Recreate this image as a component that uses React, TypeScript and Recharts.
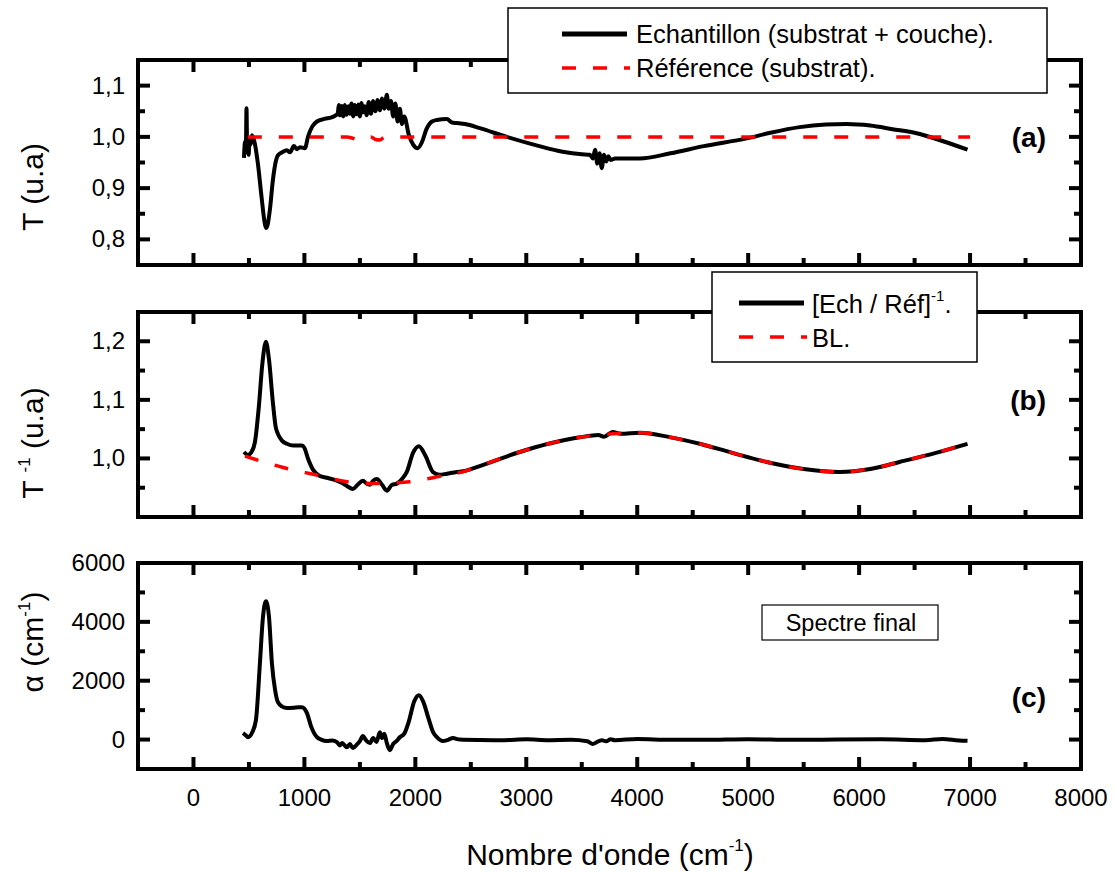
import React from 'react';
import { LineChart, Line, XAxis, YAxis } from 'recharts';

const W = 1115;
const H = 873;
const PLOT_LEFT = 138;
const PLOT_RIGHT = 1081;
const AX = 20;
const FONT = '"Liberation Sans", Arial, sans-serif';

// shared wavenumber axis
const xTicks = [0, 500, 1000, 1500, 2000, 2500, 3000, 3500, 4000, 4500, 5000, 5500, 6000, 6500, 7000, 7500, 8000];
const xMajor = [0, 1000, 2000, 3000, 4000, 5000, 6000, 7000, 8000];

// (a) transmission
const aTicks = [0.8, 0.85, 0.9, 0.95, 1.0, 1.05, 1.1];
const aMajor = [0.8, 0.9, 1.0, 1.1];
const echX = [455, 465, 472, 478, 484, 490, 497, 505, 515, 527, 550, 580, 615, 640, 653, 670, 690, 716, 740, 761, 800, 842, 870, 905, 932, 960, 1005, 1032, 1070, 1113, 1180, 1257, 1300,
  1310, 1320, 1335, 1350, 1365, 1380, 1395, 1410, 1425, 1440, 1455, 1470, 1485, 1500, 1515, 1530, 1545, 1560, 1580, 1600, 1620, 1640, 1660, 1680, 1700, 1720, 1743, 1760, 1780, 1800, 1820, 1840, 1860, 1880, 1900,
  1940, 1980, 2022, 2060, 2100, 2150, 2194, 2284, 2330, 2374, 2450, 2580, 2824, 3100, 3328, 3500, 3572, 3600, 3620, 3640, 3660, 3680, 3700, 3720, 3740, 3760, 3800, 3932, 4023, 4300, 4600, 4986, 5200, 5464, 5700, 5887, 6100, 6300, 6518, 6750, 6977];
const echT = [0.959, 0.99, 0.97, 1.056, 0.975, 0.995, 0.965, 0.99, 0.985, 1.003, 0.99, 0.949, 0.88, 0.835, 0.822, 0.83, 0.86, 0.916, 0.95, 0.964, 0.970, 0.974, 0.970, 0.982, 0.976, 0.98, 0.978, 1.0, 1.02, 1.03, 1.035, 1.039, 1.045,
  1.062, 1.042, 1.06, 1.04, 1.062, 1.043, 1.06, 1.045, 1.065, 1.04, 1.062, 1.044, 1.063, 1.04, 1.066, 1.048, 1.06, 1.042, 1.068, 1.045, 1.07, 1.05, 1.072, 1.052, 1.075, 1.055, 1.082, 1.055, 1.07, 1.04, 1.065, 1.03, 1.055, 1.025, 1.04,
  1.005, 0.985, 0.978, 0.99, 1.015, 1.03, 1.033, 1.035, 1.028, 1.027, 1.025, 1.017, 1.0, 0.983, 0.971, 0.966, 0.965, 0.958, 0.975, 0.948, 0.968, 0.939, 0.965, 0.952, 0.962, 0.955, 0.958, 0.958, 0.958, 0.968, 0.982, 0.997, 1.008, 1.019, 1.024, 1.025, 1.022, 1.015, 1.007, 0.992, 0.975];
const refX = [490, 1380, 1440, 1480, 1520, 1600, 1640, 1680, 1720, 1800, 7000];
const refT = [1.0, 1.0, 0.997, 0.994, 0.999, 1.0, 0.995, 0.994, 0.999, 1.0, 1.0];

// (b) inverse ratio and baseline
const bTicks = [0.95, 1.0, 1.05, 1.1, 1.15, 1.2];
const bMajor = [0.9, 1.0, 1.1, 1.2];
const invX = [455, 491, 520, 554, 590, 620, 653, 680, 716, 740, 761, 800, 842, 900, 977, 1000, 1032, 1080, 1140, 1200, 1293, 1340, 1383, 1437, 1480, 1527, 1560, 1590, 1620, 1653, 1700, 1743, 1790, 1833, 1880, 1923, 1980, 2032, 2090, 2158, 2220, 2284, 2374, 2428, 2580, 2941, 3200, 3482, 3650, 3700, 3779, 3850, 4023, 4300, 4563, 4850, 5167, 5500, 5824, 6100, 6365, 6700, 6977];
const invT = [1.011, 1.006, 1.01, 1.028, 1.09, 1.16, 1.199, 1.17, 1.095, 1.055, 1.042, 1.03, 1.025, 1.022, 1.022, 1.018, 1.0, 0.98, 0.97, 0.967, 0.962, 0.958, 0.953, 0.948, 0.955, 0.962, 0.957, 0.955, 0.962, 0.965, 0.955, 0.945, 0.955, 0.957, 0.965, 0.977, 1.01, 1.021, 1.005, 0.977, 0.972, 0.974, 0.977, 0.978, 0.987, 1.011, 1.025, 1.036, 1.04, 1.037, 1.045, 1.042, 1.044, 1.036, 1.025, 1.01, 0.994, 0.982, 0.977, 0.982, 0.994, 1.01, 1.025];
const blX = [464, 800, 1100, 1383, 1600, 1800, 1950, 2158, 2284, 2428, 2580, 2941, 3200, 3482, 3779, 4023, 4300, 4563, 4850, 5167, 5500, 5824, 6100, 6365, 6700, 6977];
const blT = [1.004, 0.985, 0.972, 0.96, 0.957, 0.958, 0.96, 0.967, 0.972, 0.977, 0.987, 1.011, 1.025, 1.036, 1.042, 1.044, 1.036, 1.025, 1.01, 0.994, 0.982, 0.977, 0.982, 0.994, 1.01, 1.025];

// (c) absorption coefficient
const cTicks = [0, 1000, 2000, 3000, 4000, 5000, 6000];
const cMajor = [0, 2000, 4000, 6000];
const alphaX = [446, 470, 491, 530, 563, 599, 625, 653, 680, 707, 735, 761, 800, 842, 900, 950, 977, 1023, 1060, 1113, 1150, 1203, 1250, 1293, 1320, 1340, 1383, 1410, 1437, 1470, 1500, 1527, 1555, 1590, 1620, 1650, 1680, 1700, 1720, 1745, 1770, 1800, 1830, 1860, 1900, 1940, 1990, 2032, 2070, 2120, 2160, 2194, 2248, 2300, 2338, 2400, 2580, 2800, 3000, 3200, 3400, 3550, 3600, 3630, 3680, 3720, 3760, 3800, 4000, 4300, 4600, 5000, 5400, 5800, 6200, 6600, 6750, 6900, 6977];
const alphaY = [218, 150, 82, 250, 660, 2600, 4100, 4700, 4200, 2600, 1700, 1270, 1120, 1070, 1080, 1100, 1100, 900, 450, 80, 0, -50, -30, -90, -200, -120, -260, -150, -290, -180, -50, 120, -20, -120, 50, -80, 250, 50, 200, -150, -360, -150, -50, 80, 200, 600, 1300, 1510, 1300, 700, 250, 80, -50, 0, 50, 0, -15, -20, 10, -20, -10, -60, -150, -100, -20, -60, 10, -20, 20, -10, -10, 10, -10, 0, 10, -20, 20, -30, -40];

const zip = (xs: number[], ys: number[]) => xs.map((x, i) => ({ x, y: ys[i] }));

const fmtComma = (v: number) => v.toFixed(1).replace('.', ',');
const fmtInt = (v: number) => String(v);

const isMajor = (v: number, majors: number[]) => majors.some((m) => Math.abs(m - v) < 1e-6);

const frameLine = { stroke: '#000', strokeWidth: 4, strokeLinecap: 'square' as const };

// inward ticks, long for major, short for minor
const makeTick = (side: string, majors: number[], fmt?: (v: number) => string) => (props: any) => {
  const x = Number(props.x);
  const y = Number(props.y);
  const v = Number(props.payload?.value);
  const major = isMajor(v, majors);
  const len = major ? 12 : 7;
  let d = `M${x},${y}L${x},${y - len}`;
  if (side === 'top') d = `M${x},${y}L${x},${y + len}`;
  if (side === 'left') d = `M${x},${y}L${x + len},${y}`;
  if (side === 'right') d = `M${x},${y}L${x - len},${y}`;
  let label = null;
  if (fmt && major) {
    if (side === 'bottom') {
      label = <text x={x} y={y + 37} textAnchor="middle" fontSize={24} fontFamily={FONT} fill="#000">{fmt(v)}</text>;
    } else if (side === 'left') {
      label = <text x={x - 13} y={y + 8} textAnchor="end" fontSize={24} fontFamily={FONT} fill="#000">{fmt(v)}</text>;
    }
  }
  const edge = side === 'bottom' || side === 'top' ? v > -500 && v < 8000 : true;
  return (
    <g>
      {edge && <path d={d} stroke="#000" strokeWidth={4} fill="none" />}
      {label}
    </g>
  );
};

type PanelProps = {
  top: number;
  bottom: number;
  yDomain: number[];
  yTicks: number[];
  yMajor: number[];
  yFmt: (v: number) => string;
  xLabels?: boolean;
  children: React.ReactNode;
};

// each panel: bottom/left axes carry labels, top/right mirror the ticks (a series must sit on them for ticks to show)
const Panel = ({ top, bottom, yDomain, yTicks, yMajor, yFmt, xLabels, children }: PanelProps) => (
  <div style={{ position: 'absolute', left: 0, top: 0 }}>
    <LineChart
      width={W}
      height={H}
      margin={{ top: top - AX, bottom: H - bottom - AX, left: PLOT_LEFT - AX, right: W - PLOT_RIGHT - AX }}
    >
      <XAxis xAxisId="b" type="number" dataKey="x" orientation="bottom" domain={[-500, 8000]} ticks={xTicks} interval={0}
        height={AX} tickSize={0} tickMargin={0} tickLine={false} axisLine={frameLine} allowDataOverflow
        tick={makeTick('bottom', xMajor, xLabels ? fmtInt : undefined)} />
      <XAxis xAxisId="t" type="number" dataKey="x" orientation="top" domain={[-500, 8000]} ticks={xTicks} interval={0}
        height={AX} tickSize={0} tickMargin={0} tickLine={false} axisLine={frameLine} allowDataOverflow
        tick={makeTick('top', xMajor)} />
      <YAxis yAxisId="l" type="number" dataKey="y" orientation="left" domain={yDomain} ticks={yTicks} interval={0}
        width={AX} tickSize={0} tickMargin={0} tickLine={false} axisLine={frameLine} allowDataOverflow
        tick={makeTick('left', yMajor, yFmt)} />
      <YAxis yAxisId="r" type="number" dataKey="y" orientation="right" domain={yDomain} ticks={yTicks} interval={0}
        width={AX} tickSize={0} tickMargin={0} tickLine={false} axisLine={frameLine} allowDataOverflow
        tick={makeTick('right', yMajor)} />
      {children}
    </LineChart>
  </div>
);

const solid = { stroke: '#000', strokeWidth: 4, strokeLinejoin: 'round' as const };
const dashed = { stroke: '#ff0000', strokeWidth: 3.5, strokeDasharray: '14 17' };

export default function App() {
  return (
    <div style={{ position: 'absolute', left: 0, top: 0, width: W, height: H, background: '#fff', fontFamily: FONT }}>
      <Panel top={60} bottom={265} yDomain={[0.75, 1.15]} yTicks={aTicks} yMajor={aMajor} yFmt={fmtComma}>
        <Line xAxisId="b" yAxisId="l" data={zip(echX, echT)} dataKey="y" type="monotone" dot={false} isAnimationActive={false} {...solid} />
        <Line xAxisId="t" yAxisId="r" data={zip(refX, refT)} dataKey="y" type="monotone" dot={false} isAnimationActive={false} {...dashed} />
      </Panel>
      <Panel top={312} bottom={517} yDomain={[0.9, 1.25]} yTicks={bTicks} yMajor={bMajor} yFmt={fmtComma}>
        <Line xAxisId="b" yAxisId="l" data={zip(invX, invT)} dataKey="y" type="monotone" dot={false} isAnimationActive={false} {...solid} />
        <Line xAxisId="t" yAxisId="r" data={zip(blX, blT)} dataKey="y" type="monotone" dot={false} isAnimationActive={false} {...dashed} />
      </Panel>
      <Panel top={563} bottom={769} yDomain={[-1000, 6000]} yTicks={cTicks} yMajor={cMajor} yFmt={fmtInt} xLabels>
        <Line xAxisId="t" yAxisId="r" data={zip(alphaX, alphaY)} dataKey="y" type="monotone" dot={false} isAnimationActive={false} stroke="none" strokeWidth={0} />
        <Line xAxisId="b" yAxisId="l" data={zip(alphaX, alphaY)} dataKey="y" type="monotone" dot={false} isAnimationActive={false} {...solid} />
      </Panel>

      <svg width={W} height={H} style={{ position: 'absolute', left: 0, top: 0, pointerEvents: 'none' }} fontFamily={FONT}>
        {/* legend (a) */}
        <rect x={508} y={8} width={539} height={85} fill="#fff" stroke="#000" strokeWidth={1.5} />
        <line x1={562} y1={34} x2={627} y2={34} stroke="#000" strokeWidth={5} />
        <line x1={562} y1={68} x2={630} y2={68} stroke="#ff0000" strokeWidth={3.5} strokeDasharray="14 17" />
        <text x={636} y={43} fontSize={25.5}>Echantillon (substrat + couche).</text>
        <text x={636} y={77} fontSize={25.5}>Référence (substrat).</text>

        {/* legend (b) */}
        <rect x={712} y={272} width={265} height={90} fill="#fff" stroke="#000" strokeWidth={1.5} />
        <line x1={739} y1={303} x2={804} y2={303} stroke="#000" strokeWidth={5} />
        <line x1={739} y1={337} x2={807} y2={337} stroke="#ff0000" strokeWidth={3.5} strokeDasharray="14 17" />
        <text x={812} y={313} fontSize={25.5}>
          [Ech / Réf]<tspan dy={-12} fontSize={15}>-1</tspan><tspan dy={12}>.</tspan>
        </text>
        <text x={812} y={347} fontSize={25.5}>BL.</text>

        {/* spectre final box */}
        <rect x={762} y={605} width={176} height={35} fill="#fff" stroke="#000" strokeWidth={1.2} />
        <text x={851} y={631} fontSize={23.5} textAnchor="middle">Spectre final</text>

        {/* panel tags */}
        <text x={1046} y={147} fontSize={28} fontWeight="bold" textAnchor="end">(a)</text>
        <text x={1046} y={410} fontSize={28} fontWeight="bold" textAnchor="end">(b)</text>
        <text x={1046} y={707} fontSize={28} fontWeight="bold" textAnchor="end">(c)</text>

        {/* y titles */}
        <text transform="translate(43,187) rotate(-90)" fontSize={30} textAnchor="middle">T (u.a)</text>
        <text transform="translate(43,443) rotate(-90)" fontSize={30} textAnchor="middle">
          T <tspan dy={-13} fontSize={17}>-1</tspan><tspan dy={13}> (u.a)</tspan>
        </text>
        <text transform="translate(43,642) rotate(-90)" fontSize={30} textAnchor="middle">
          α (cm<tspan dy={-13} fontSize={17}>-1</tspan><tspan dy={13}>)</tspan>
        </text>

        {/* x title */}
        <text x={610} y={865} fontSize={30} textAnchor="middle">
          Nombre d'onde (cm<tspan dy={-14} fontSize={17}>-1</tspan><tspan dy={14}>)</tspan>
        </text>
      </svg>
    </div>
  );
}
